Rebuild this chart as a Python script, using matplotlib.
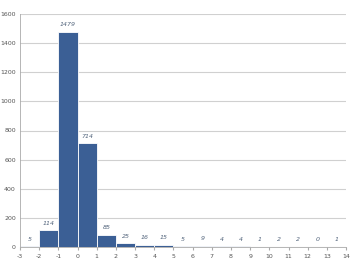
#!/usr/bin/env python3
import matplotlib.pyplot as plt

# histogram bins (left edges) and counts
bin_left = [-3, -2, -1, 0, 1, 2, 3, 4, 5, 6, 7, 8, 9, 10, 11, 12, 13]
counts = [5, 114, 1479, 714, 85, 25, 16, 15, 5, 9, 4, 4, 1, 2, 2, 0, 1]
x_ticks = list(range(-3, 15))
y_ticks = [0, 200, 400, 600, 800, 1000, 1200, 1400, 1600]

bar_color = "#3B5F95"
label_color = "#50627A"
tick_color = "#555555"
grid_color = "#D0D0D0"


def plot():
    plt.rcParams["axes.unicode_minus"] = False
    fig = plt.figure(figsize=(3.51, 2.61), dpi=100)
    ax = fig.add_axes([0.057, 0.054, 0.929, 0.892])

    ax.bar(bin_left, counts, width=1.0, align="edge", color=bar_color,
           edgecolor="white", linewidth=0.6, zorder=2)

    for x, c in zip(bin_left, counts):
        ax.annotate(str(c), (x + 0.5, c), xytext=(0, 5), textcoords="offset points",
                    ha="center", va="center", fontsize=4.5, style="italic",
                    color=label_color)

    ax.set_xlim(-3, 14)
    ax.set_ylim(0, 1600)
    ax.set_xticks(x_ticks)
    ax.set_yticks(y_ticks)
    ax.tick_params(axis="both", labelsize=4.5, colors=tick_color, length=0, pad=3)
    ax.tick_params(axis="x", length=2, color="#AAAAAA", pad=3)
    ax.grid(axis="y", color=grid_color, linewidth=0.8, zorder=0)
    ax.set_axisbelow(True)

    for side in ("top", "right"):
        ax.spines[side].set_visible(False)
    ax.spines["left"].set_color("#AAAAAA")
    ax.spines["left"].set_linewidth(0.6)
    ax.spines["bottom"].set_color("#AAAAAA")
    ax.spines["bottom"].set_linewidth(0.6)

    fig.savefig("out.png", dpi=100)


if __name__ == "__main__":
    plot()
